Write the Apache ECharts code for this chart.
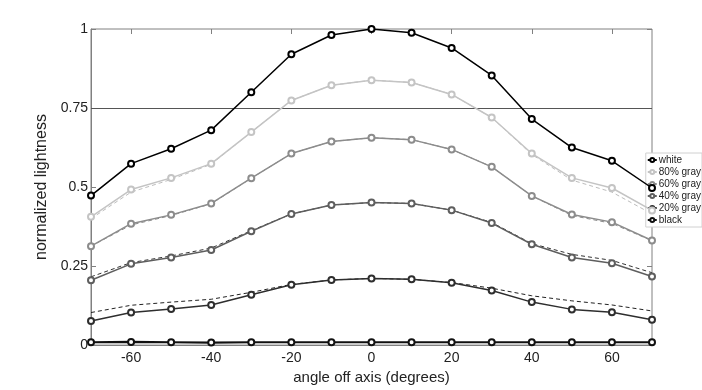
<!DOCTYPE html>
<html>
<head>
<meta charset="utf-8">
<script src="https://cdn.jsdelivr.net/npm/echarts@6/dist/echarts.min.js"></script>
<style>
  html, body { margin: 0; padding: 0; background: #fff; }
  #chart { width: 702px; height: 390px; }
</style>
</head>
<body>
<div id="chart"></div>
<script>
// angles off axis (degrees)
const angles = [-70, -60, -50, -40, -30, -20, -10, 0, 10, 20, 30, 40, 50, 60, 70];
const xTicks = [-60, -40, -20, 0, 20, 40, 60];
const yTicks = [0, 0.25, 0.5, 0.75, 1];

// measured lightness
const white   = [0.473, 0.574, 0.621, 0.680, 0.800, 0.920, 0.981, 1.000, 0.988, 0.940, 0.853, 0.715, 0.625, 0.583, 0.497];
const gray80  = [0.406, 0.492, 0.529, 0.574, 0.674, 0.774, 0.822, 0.838, 0.831, 0.793, 0.720, 0.606, 0.529, 0.497, 0.426];
const gray60  = [0.313, 0.384, 0.412, 0.448, 0.528, 0.606, 0.644, 0.656, 0.650, 0.619, 0.564, 0.472, 0.413, 0.389, 0.331];
const gray40  = [0.205, 0.257, 0.277, 0.301, 0.360, 0.415, 0.443, 0.451, 0.448, 0.427, 0.386, 0.319, 0.277, 0.259, 0.217];
const gray20  = [0.076, 0.103, 0.114, 0.127, 0.159, 0.191, 0.206, 0.211, 0.208, 0.197, 0.173, 0.136, 0.113, 0.104, 0.080];
const black   = [0.009, 0.010, 0.009, 0.008, 0.009, 0.009, 0.009, 0.009, 0.009, 0.009, 0.009, 0.009, 0.009, 0.009, 0.009];

// dashed reference curves
const ref80 = [0.400, 0.484, 0.524, 0.572, 0.674, 0.774, 0.822, 0.838, 0.831, 0.793, 0.720, 0.603, 0.522, 0.484, 0.415];
const ref60 = [0.313, 0.380, 0.410, 0.447, 0.528, 0.606, 0.644, 0.656, 0.650, 0.619, 0.564, 0.472, 0.410, 0.385, 0.330];
const ref40 = [0.216, 0.261, 0.282, 0.307, 0.362, 0.415, 0.443, 0.451, 0.448, 0.427, 0.388, 0.321, 0.287, 0.268, 0.229];
const ref20 = [0.103, 0.126, 0.136, 0.145, 0.167, 0.192, 0.206, 0.211, 0.208, 0.198, 0.180, 0.156, 0.140, 0.127, 0.108];

const pairs = (ys) => angles.map((a, i) => [a, ys[i]]);

const solid = (name, ys, color, width) => ({
  name: name,
  type: 'line',
  data: pairs(ys),
  symbol: 'emptyCircle',
  symbolSize: 6,
  z: 5,
  lineStyle: { color: color, width: width || 1.5 },
  itemStyle: { color: color, borderColor: color, borderWidth: 1.5 },
  emphasis: { disabled: true },
});

const dashed = (ys, color) => ({
  type: 'line',
  data: pairs(ys),
  symbol: 'none',
  z: 3,
  lineStyle: { color: color, width: 1, type: [4, 3] },
  silent: true,
});

const font = 'Liberation Sans, Arial, sans-serif';
const axisGray = '#808080';

// tick-only mirror axes (top / right of the box)
const mirrorTicks = (vals) => ({
  show: true,
  axisLine: { show: false, onZero: false },
  axisTick: { show: true, inside: true, length: 5, customValues: vals, lineStyle: { color: axisGray } },
  axisLabel: { show: false },
  splitLine: { show: false },
});

const chart = echarts.init(document.getElementById('chart'));
const option = {
  animation: false,
  backgroundColor: '#fff',
  grid: {
    left: 91, right: 50, top: 29, bottom: 44,
    show: true, borderColor: axisGray, borderWidth: 1,
  },
  legend: {
    orient: 'vertical',
    right: 0,
    top: 153,
    data: ['white', '80% gray', '60% gray', '40% gray', '20% gray', 'black'],
    itemWidth: 9,
    itemHeight: 5,
    itemGap: 2,
    padding: [2, 1, 2, 1],
    borderColor: '#d0d0d0',
    borderWidth: 1,
    backgroundColor: '#fff',
    textStyle: { fontSize: 10, fontFamily: font, color: '#222', padding: [0, 0, 0, -3] },
  },
  xAxis: [
    {
      type: 'value',
      min: -70,
      max: 70,
      name: 'angle off axis (degrees)',
      nameLocation: 'middle',
      nameGap: 22,
      nameTextStyle: { fontSize: 15, fontFamily: font, color: '#222' },
      axisLine: { onZero: false, lineStyle: { color: axisGray } },
      axisTick: { inside: true, length: 5, customValues: xTicks, lineStyle: { color: axisGray } },
      axisLabel: { customValues: xTicks, fontSize: 14, fontFamily: font, color: '#222', margin: 6 },
      splitLine: { show: false },
    },
    Object.assign({ type: 'value', min: -70, max: 70, position: 'top' }, mirrorTicks(xTicks)),
  ],
  yAxis: [
    {
      type: 'value',
      min: 0,
      max: 1,
      name: 'normalized lightness',
      nameLocation: 'middle',
      nameGap: 36,
      nameTextStyle: { fontSize: 16, fontFamily: font, color: '#222' },
      axisLine: { show: true, onZero: false, lineStyle: { color: axisGray } },
      axisTick: { inside: true, length: 5, customValues: yTicks, lineStyle: { color: axisGray } },
      axisLabel: {
        customValues: yTicks, fontSize: 14, fontFamily: font, color: '#222', margin: 3,
        formatter: (v) => String(v),
      },
      splitLine: { show: false },
    },
    Object.assign({ type: 'value', min: 0, max: 1, position: 'right' }, mirrorTicks(yTicks)),
  ],
  series: [
    dashed(ref80, '#bdbdbd'),
    dashed(ref60, '#8a8a8a'),
    dashed(ref40, '#333'),
    dashed(ref20, '#222'),
    Object.assign(solid('white', white, '#000'), {
      markLine: {
        silent: true,
        symbol: 'none',
        label: { show: false },
        lineStyle: { color: '#555', width: 1.2, type: 'solid' },
        data: [{ yAxis: 0.75 }],
      },
    }),
    solid('80% gray', gray80, '#c4c4c4'),
    solid('60% gray', gray60, '#8c8c8c'),
    solid('40% gray', gray40, '#5e5e5e'),
    solid('20% gray', gray20, '#2e2e2e'),
    solid('black', black, '#111', 2.2),
  ],
};
chart.setOption(option);
window.addEventListener('resize', () => {
  chart.resize();
});
</script>
</body>
</html>
